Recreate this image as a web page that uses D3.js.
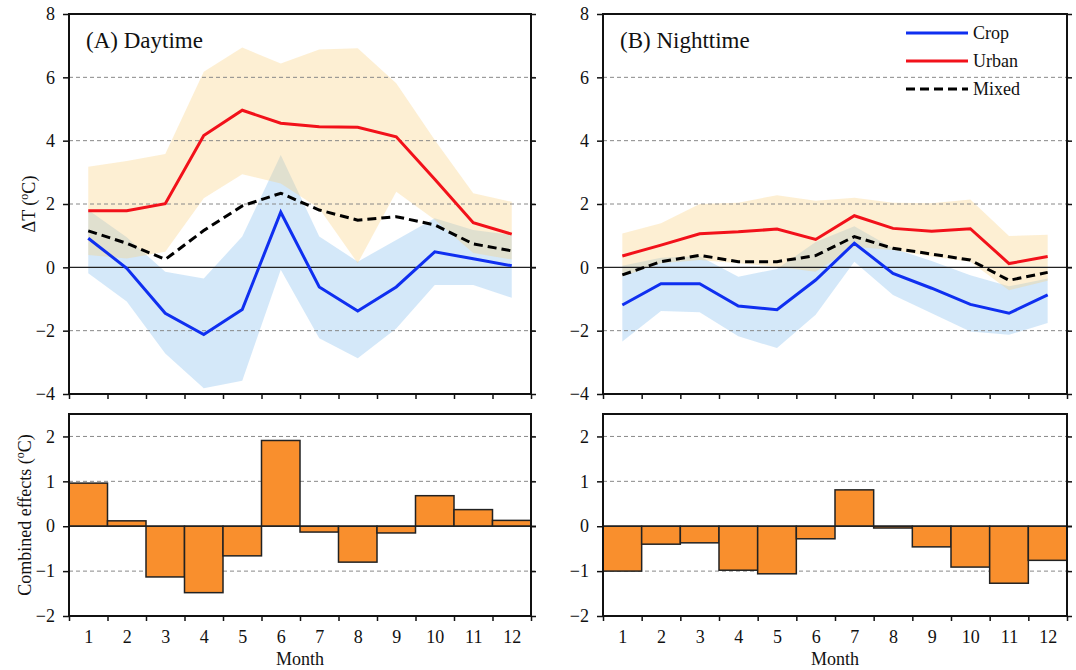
<!DOCTYPE html>
<html>
<head>
<meta charset="utf-8">
<style>
    body { margin: 0; background: #fff; }
    svg { font-family: "Liberation Serif", "Times New Roman", serif; }
    .axis .domain { display: none; }
    .axis text { font-size: 18px; fill: #111; font-family: "Liberation Serif", "Times New Roman", serif; }
    .axis line { stroke: #111; stroke-width: 1.5px; }
</style>
</head>
<body>
<svg width="1076" height="670"></svg>
<script src="https://d3js.org/d3.v7.min.js"></script>
<script>
// months
let months = [1, 2, 3, 4, 5, 6, 7, 8, 9, 10, 11, 12];

// (A) daytime
let dayCrop = [0.92, -0.03, -1.45, -2.12, -1.33, 1.74, -0.62, -1.38, -0.62, 0.49, 0.27, 0.05];
let dayUrban = [1.79, 1.79, 2.01, 4.16, 4.96, 4.55, 4.44, 4.42, 4.12, 2.78, 1.41, 1.05];
let dayMixed = [1.15, 0.76, 0.25, 1.16, 1.94, 2.34, 1.81, 1.49, 1.6, 1.34, 0.74, 0.52];
let dayCropHi = [1.81, 0.95, -0.14, -0.35, 0.97, 3.55, 0.97, 0.18, 0.86, 1.55, 1.18, 1.02];
let dayCropLo = [-0.19, -1.08, -2.72, -3.82, -3.58, -0.08, -2.24, -2.87, -1.93, -0.56, -0.56, -0.96];
let dayUrbanHi = [3.18, 3.36, 3.58, 6.18, 6.94, 6.44, 6.88, 6.92, 5.81, 4.02, 2.34, 2.07];
let dayUrbanLo = [0.39, 0.28, 0.49, 2.18, 2.94, 2.65, 1.86, 0.13, 2.39, 1.5, 0.45, 0.25];
let dayCombined = [0.96, 0.12, -1.13, -1.48, -0.66, 1.91, -0.13, -0.8, -0.15, 0.68, 0.37, 0.13];

// (B) nighttime
let nightCrop = [-1.19, -0.52, -0.52, -1.22, -1.34, -0.4, 0.76, -0.19, -0.66, -1.17, -1.45, -0.87];
let nightUrban = [0.36, 0.7, 1.06, 1.12, 1.21, 0.88, 1.63, 1.23, 1.14, 1.22, 0.12, 0.34];
let nightMixed = [-0.24, 0.18, 0.38, 0.18, 0.18, 0.37, 0.97, 0.6, 0.42, 0.23, -0.41, -0.16];
let nightCropHi = [0.05, 0.3, 0.35, -0.3, -0.05, 0.8, 1.3, 0.6, 0.2, -0.25, -0.6, -0.35];
let nightCropLo = [-2.34, -1.38, -1.42, -2.18, -2.55, -1.5, 0.18, -0.87, -1.45, -2.03, -2.13, -1.76];
let nightUrbanHi = [1.07, 1.39, 2.0, 2.04, 2.28, 2.1, 2.2, 2.04, 2.02, 2.14, 0.99, 1.03];
let nightUrbanLo = [-0.29, 0.13, 0.23, 0.13, 0.02, -0.14, 0.65, 0.55, 0.34, 0.18, -0.72, -0.42];
let nightCombined = [-1.0, -0.4, -0.37, -0.98, -1.06, -0.28, 0.81, -0.04, -0.46, -0.91, -1.27, -0.76];

// axis ticks
let topTicks = [-4, -2, 0, 2, 4, 6, 8];
let topGrid = [-2, 2, 4, 6];
let bottomTicks = [-2, -1, 0, 1, 2];
let bottomGrid = [-1, 1, 2];
let monthEdges = d3.range(0.5, 13, 1);

let svg = d3.select("svg");

let cropColor = "#0f2ff0";
let urbanColor = "#f2111a";

function sup(textSel, before, after) {
    textSel.append("tspan").text(before);
    textSel.append("tspan").attr("baseline-shift", "super").style("font-size", "12px").text("o");
    textSel.append("tspan").text(after);
}

function drawTop(left, right, title, crop, urban, mixed, cropHi, cropLo, urbanHi, urbanLo) {
    let top = 14, bottom = 394;
    let x = d3.scaleLinear().domain([0.5, 12.5]).range([left, right]);
    let y = d3.scaleLinear().domain([-4, 8]).range([bottom, top]);
    let g = svg.append("g");

    let rows = months.map((m, i) => ({ m: m, crop: crop[i], urban: urban[i], mixed: mixed[i],
        cHi: cropHi[i], cLo: cropLo[i], uHi: urbanHi[i], uLo: urbanLo[i] }));

    // bands
    g.append("path")
        .attr("d", d3.area().x(d => x(d.m)).y0(d => y(d.cLo)).y1(d => y(d.cHi))(rows))
        .style("fill", "rgb(120,185,235)").style("fill-opacity", 0.32);
    g.append("path")
        .attr("d", d3.area().x(d => x(d.m)).y0(d => y(d.uLo)).y1(d => y(d.uHi))(rows))
        .style("fill", "rgb(248,208,125)").style("fill-opacity", 0.34);

    // grid
    g.selectAll(".grid").data(topGrid).join("line")
        .attr("x1", left).attr("x2", right + 5)
        .attr("y1", d => y(d)).attr("y2", d => y(d))
        .style("stroke", "#888").style("stroke-width", 1).style("stroke-dasharray", "4 3");
    g.append("line")
        .attr("x1", left).attr("x2", right + 5).attr("y1", y(0)).attr("y2", y(0))
        .style("stroke", "#222").style("stroke-width", 1.2);

    // lines
    let line = key => d3.line().x(d => x(d.m)).y(d => y(d[key]))(rows);
    g.append("path").attr("d", line("crop"))
        .style("fill", "none").style("stroke", cropColor).style("stroke-width", 3);
    g.append("path").attr("d", line("urban"))
        .style("fill", "none").style("stroke", urbanColor).style("stroke-width", 3);
    g.append("path").attr("d", line("mixed"))
        .style("fill", "none").style("stroke", "#000").style("stroke-width", 3)
        .style("stroke-dasharray", "9 5");

    // axes
    g.append("g").attr("class", "axis").attr("transform", `translate(${left},0)`)
        .call(d3.axisLeft(y).tickValues(topTicks).tickSize(6).tickPadding(8).tickFormat(d3.format("d")));
    g.append("g").attr("class", "axis").attr("transform", `translate(${right},0)`)
        .call(d3.axisRight(y).tickValues(topTicks).tickSize(5).tickFormat(""));
    g.append("g").attr("class", "axis").attr("transform", `translate(0,${bottom})`)
        .call(d3.axisBottom(x).tickValues(monthEdges).tickSize(5).tickFormat(""));

    g.append("rect").attr("x", left).attr("y", top)
        .attr("width", right - left).attr("height", bottom - top)
        .style("fill", "none").style("stroke", "#111").style("stroke-width", 2);

    g.append("text").attr("x", left + 17).attr("y", 48)
        .style("font-size", "23px").style("fill", "#111").text(title);
}

function drawBottom(left, right, values) {
    let top = 414, bottom = 616;
    let x = d3.scaleLinear().domain([0.5, 12.5]).range([left, right]);
    let y = d3.scaleLinear().domain([-2, 2.5]).range([bottom, top]);
    let g = svg.append("g");

    g.selectAll(".grid").data(bottomGrid).join("line")
        .attr("x1", left).attr("x2", right + 5)
        .attr("y1", d => y(d)).attr("y2", d => y(d))
        .style("stroke", "#888").style("stroke-width", 1).style("stroke-dasharray", "4 3");

    g.selectAll(".bar").data(values).join("rect")
        .attr("x", (d, i) => x(months[i] - 0.5))
        .attr("width", (d, i) => x(months[i] + 0.5) - x(months[i] - 0.5))
        .attr("y", d => y(Math.max(0, d)))
        .attr("height", d => Math.abs(y(d) - y(0)))
        .style("fill", "#f98f2d").style("stroke", "#222").style("stroke-width", 1.5);

    g.append("line")
        .attr("x1", left).attr("x2", right + 5).attr("y1", y(0)).attr("y2", y(0))
        .style("stroke", "#222").style("stroke-width", 1.2);

    g.append("g").attr("class", "axis").attr("transform", `translate(${left},0)`)
        .call(d3.axisLeft(y).tickValues(bottomTicks).tickSize(6).tickPadding(8).tickFormat(d3.format("d")));
    g.append("g").attr("class", "axis").attr("transform", `translate(${right},0)`)
        .call(d3.axisRight(y).tickValues(bottomTicks).tickSize(5).tickFormat(""));
    g.append("g").attr("class", "axis").attr("transform", `translate(0,${bottom})`)
        .call(d3.axisBottom(x).tickValues(monthEdges).tickSize(5).tickFormat(""));
    g.append("g").attr("class", "axis").attr("transform", `translate(0,${bottom})`)
        .call(d3.axisBottom(x).tickValues(months).tickSize(0).tickPadding(14).tickFormat(d3.format("d")))
        .selectAll("line").remove();

    g.append("rect").attr("x", left).attr("y", top)
        .attr("width", right - left).attr("height", bottom - top)
        .style("fill", "none").style("stroke", "#111").style("stroke-width", 2);

    g.append("text").attr("x", (left + right) / 2).attr("y", 665)
        .attr("text-anchor", "middle").style("font-size", "18px").style("fill", "#111").text("Month");
}

drawTop(69, 531, "(A) Daytime", dayCrop, dayUrban, dayMixed, dayCropHi, dayCropLo, dayUrbanHi, dayUrbanLo);
drawTop(603, 1067, "(B) Nighttime", nightCrop, nightUrban, nightMixed, nightCropHi, nightCropLo, nightUrbanHi, nightUrbanLo);
drawBottom(69, 531, dayCombined);
drawBottom(603, 1067, nightCombined);

// y titles
let t1 = svg.append("text").attr("transform", "translate(35,204) rotate(-90)")
    .attr("text-anchor", "middle").style("font-size", "18px").style("fill", "#111");
sup(t1, "\u0394T (", "C)");
let t2 = svg.append("text").attr("transform", "translate(31,515) rotate(-90)")
    .attr("text-anchor", "middle").style("font-size", "18px").style("fill", "#111");
sup(t2, "Combined effects (", "C)");

// legend
let legendNames = ["Crop", "Urban", "Mixed"];
let legendColors = [cropColor, urbanColor, "#000"];
let legendDash = [null, null, "9 5"];
let lg = svg.append("g").attr("transform", "translate(906,33)");
legendNames.forEach((name, i) => {
    lg.append("line").attr("x1", 0).attr("x2", 62).attr("y1", i * 28).attr("y2", i * 28)
        .style("stroke", legendColors[i]).style("stroke-width", 3)
        .style("stroke-dasharray", legendDash[i]);
    lg.append("text").attr("x", 67).attr("y", i * 28).attr("dy", "0.35em")
        .style("font-size", "18px").style("fill", "#111").text(name);
});
</script>
</body>
</html>
